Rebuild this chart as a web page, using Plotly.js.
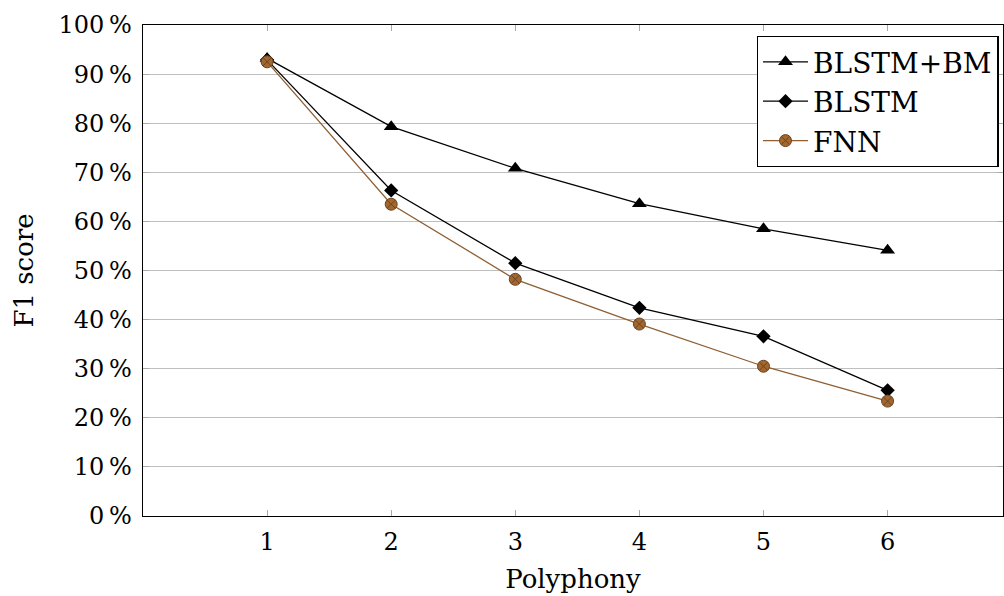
<!DOCTYPE html>
<html>
<head>
<meta charset="utf-8">
<script src="https://cdn.plot.ly/plotly-3.0.1.min.js"></script>
<style>html,body{margin:0;padding:0;background:#fff;}#chart{width:1004px;height:596px;}</style>
</head>
<body>
<div id="chart"></div>
<script>
const polyphony = [1, 2, 3, 4, 5, 6];
const blstmBM = [93.2, 79.3, 70.8, 63.6, 58.5, 54.1];
const blstm = [92.9, 66.3, 51.5, 42.4, 36.6, 25.6];
const fnn = [92.5, 63.5, 48.2, 39.1, 30.5, 23.4];
const yTicks = [0, 10, 20, 30, 40, 50, 60, 70, 80, 90, 100];
const yTickText = yTicks.map(v => v + '\u2009%');
const xTicks = [1, 2, 3, 4, 5, 6];

const font = 'DejaVu Serif';

const traces = [
  {x: polyphony, y: blstmBM, name: 'BLSTM+BM', mode: 'lines+markers',
   line: {color: '#000', width: 1.3},
   marker: {symbol: 'triangle-up', size: 13, color: '#000'}},
  {x: polyphony, y: blstm, name: 'BLSTM', mode: 'lines+markers',
   line: {color: '#000', width: 1.3},
   marker: {symbol: 'diamond', size: 11, color: '#000'}},
  {x: polyphony, y: fnn, name: 'FNN', mode: 'lines+markers',
   line: {color: '#8f5f33', width: 1.3},
   marker: {symbol: 'circle-x', size: 12, color: '#a2672f', line: {color: '#6b4420', width: 1}}}
];

const layout = {
  width: 1004, height: 596,
  margin: {l: 143, r: 1, t: 25, b: 80},
  paper_bgcolor: '#fff', plot_bgcolor: '#fff',
  font: {family: font, size: 24, color: '#000'},
  showlegend: true,
  legend: {x: 0.995, y: 0.978, xanchor: 'right', yanchor: 'top',
           bordercolor: '#000', borderwidth: 1.3, bgcolor: '#fff',
           font: {family: font, size: 28}, tracegroupgap: 0, itemwidth: 45},
  xaxis: {range: [0, 6.93], tickvals: xTicks, ticktext: xTicks.map(String),
          ticks: 'inside', ticklen: 6, tickcolor: '#aaa', tickwidth: 1,
          showline: true, linecolor: '#000', linewidth: 1.3, mirror: 'allticks',
          showgrid: false, zeroline: false, ticklabelstandoff: 4,
          title: {text: 'Polyphony', font: {family: font, size: 26}, standoff: 14}},
  yaxis: {range: [0, 100], tickvals: yTicks, ticktext: yTickText,
          ticks: 'inside', ticklen: 6, tickcolor: '#aaa', tickwidth: 1,
          showline: true, linecolor: '#000', linewidth: 1.3, mirror: 'allticks',
          showgrid: true, gridcolor: '#bfbfbf', gridwidth: 1, zeroline: false,
          ticklabelstandoff: 5,
          title: {text: 'F1 score', font: {family: font, size: 26}, standoff: 17}}
};

Plotly.newPlot('chart', traces, layout, {displayModeBar: false, staticPlot: true});
</script>
</body>
</html>
